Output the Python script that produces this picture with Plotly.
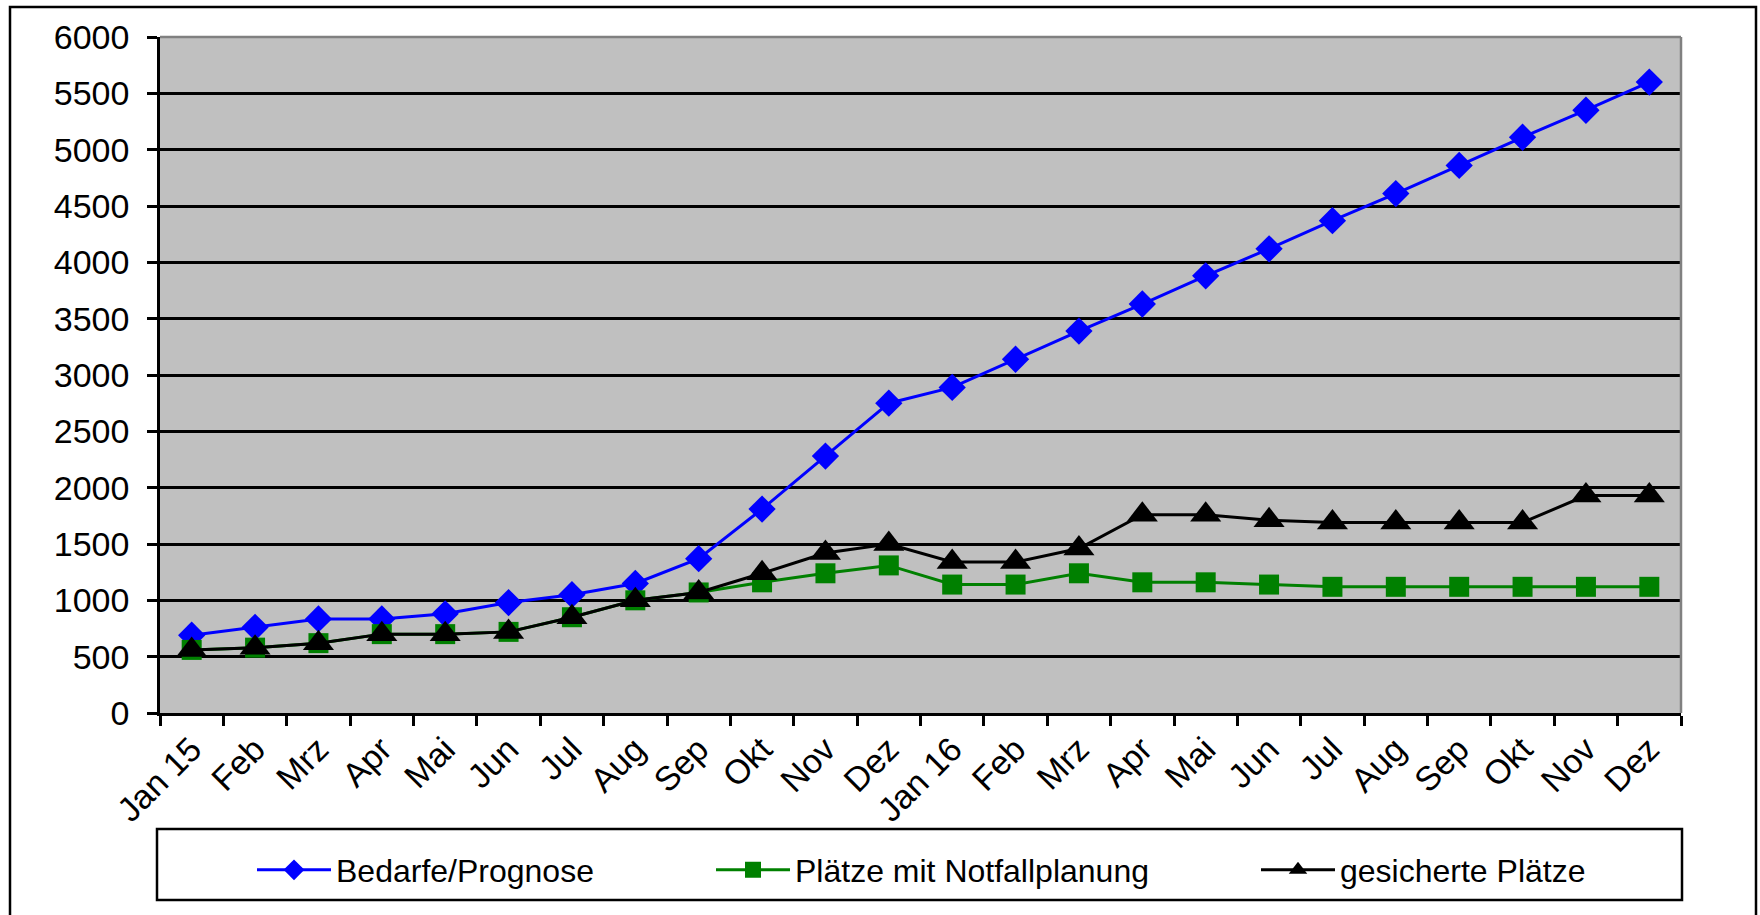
import plotly.graph_objects as go

months = ["Jan 15", "Feb", "Mrz", "Apr", "Mai", "Jun", "Jul", "Aug", "Sep", "Okt", "Nov", "Dez",
          "Jan 16", "Feb", "Mrz", "Apr", "Mai", "Jun", "Jul", "Aug", "Sep", "Okt", "Nov", "Dez"]

bedarfe_prognose = [690, 760, 835, 835, 880, 980, 1050, 1150, 1370, 1810, 2280, 2750,
                    2890, 3140, 3390, 3630, 3880, 4120, 4370, 4610, 4860, 5110, 5350, 5600]
plaetze_notfall = [560, 580, 620, 700, 700, 720, 850, 1000, 1070, 1160, 1240, 1310,
                   1140, 1140, 1240, 1160, 1160, 1140, 1120, 1120, 1120, 1120, 1120, 1120]
gesicherte_plaetze = [560, 580, 620, 700, 700, 720, 850, 1000, 1070, 1240, 1420, 1500,
                      1340, 1340, 1460, 1760, 1760, 1710, 1690, 1690, 1690, 1690, 1930, 1930]

y_ticks = [0, 500, 1000, 1500, 2000, 2500, 3000, 3500, 4000, 4500, 5000, 5500, 6000]

FONT = "Liberation Sans, Arial, sans-serif"
W, H = 1760, 915
L, R, T, B = 160, 79, 37, 202
PW, PH = W - L - R, H - T - B


def px_x(p):
    return (p - L) / PW


def px_y(p):
    return (H - B - p) / PH


x = list(range(len(months)))

fig = go.Figure()
fig.add_trace(go.Scatter(
    x=x, y=bedarfe_prognose, name="Bedarfe/Prognose", mode="lines+markers",
    line=dict(color="#0000FF", width=3),
    marker=dict(symbol="diamond", size=21, color="#0000FF"),
    legend="legend",
))
fig.add_trace(go.Scatter(
    x=x, y=plaetze_notfall, name="Plätze mit Notfallplanung", mode="lines+markers",
    line=dict(color="#008000", width=3),
    marker=dict(symbol="square", size=20, color="#008000"),
    legend="legend2",
))
fig.add_trace(go.Scatter(
    x=x, y=gesicherte_plaetze, name="gesicherte Plätze", mode="lines+markers",
    line=dict(color="#000000", width=3),
    marker=dict(symbol="triangle-up", size=27, color="#000000"),
    legend="legend3",
))

leg_common = dict(
    orientation="h", yanchor="middle", xanchor="left",
    bgcolor="rgba(0,0,0,0)", borderwidth=0, itemwidth=74,
    font=dict(family=FONT, size=32, color="black"),
)
fig.update_layout(
    width=W, height=H,
    margin=dict(l=L, r=R, t=T, b=B, pad=0),
    paper_bgcolor="white", plot_bgcolor="#C0C0C0",
    font=dict(family=FONT, size=34, color="black"),
    showlegend=True,
    legend=dict(x=px_x(252), y=px_y(870), **leg_common),
    legend2=dict(x=px_x(711), y=px_y(870), **leg_common),
    legend3=dict(x=px_x(1256), y=px_y(870), **leg_common),
)

fig.update_xaxes(
    range=[-0.5, len(months) - 0.5],
    tickmode="array", tickvals=x, ticktext=months, tickangle=-45,
    ticks="", showgrid=False, zeroline=False,
    showline=True, linecolor="black", linewidth=2.5,
    tickfont=dict(family=FONT, size=34, color="black"),
    minor=dict(tickmode="array", tickvals=[i - 0.5 for i in range(len(months) + 1)],
               ticks="outside", ticklen=10, tickwidth=2.5, tickcolor="black", showgrid=False),
)
fig.update_yaxes(
    range=[0, 6000], tickmode="array", tickvals=y_ticks,
    ticks="outside", ticklen=10, tickwidth=2.5, tickcolor="black",
    showgrid=True, gridcolor="black", gridwidth=2.5, zeroline=False,
    showline=True, linecolor="black", linewidth=2.5,
    tickfont=dict(family=FONT, size=34, color="black"),
    ticklabelstandoff=11,
)

# plot area top/right border (gray)
fig.add_shape(type="line", xref="paper", yref="paper", x0=0, x1=1, y0=1, y1=1,
              line=dict(color="#808080", width=2.5), layer="above")
fig.add_shape(type="line", xref="paper", yref="paper", x0=1, x1=1, y0=0, y1=1,
              line=dict(color="#808080", width=2.5), layer="above")
# legend box
fig.add_shape(type="rect", xref="paper", yref="paper",
              x0=px_x(157), x1=px_x(1682), y0=px_y(900), y1=px_y(829),
              line=dict(color="black", width=2.5), fillcolor="rgba(0,0,0,0)")
# outer chart border
fig.add_shape(type="rect", xref="paper", yref="paper",
              x0=px_x(10), x1=px_x(1756), y0=px_y(935), y1=px_y(7),
              line=dict(color="black", width=2.5), fillcolor="rgba(0,0,0,0)")

fig.write_html(
    "out.html",
    config={"displayModeBar": False},
    post_script="document.body.style.margin='0';document.body.style.overflow='hidden';",
)
